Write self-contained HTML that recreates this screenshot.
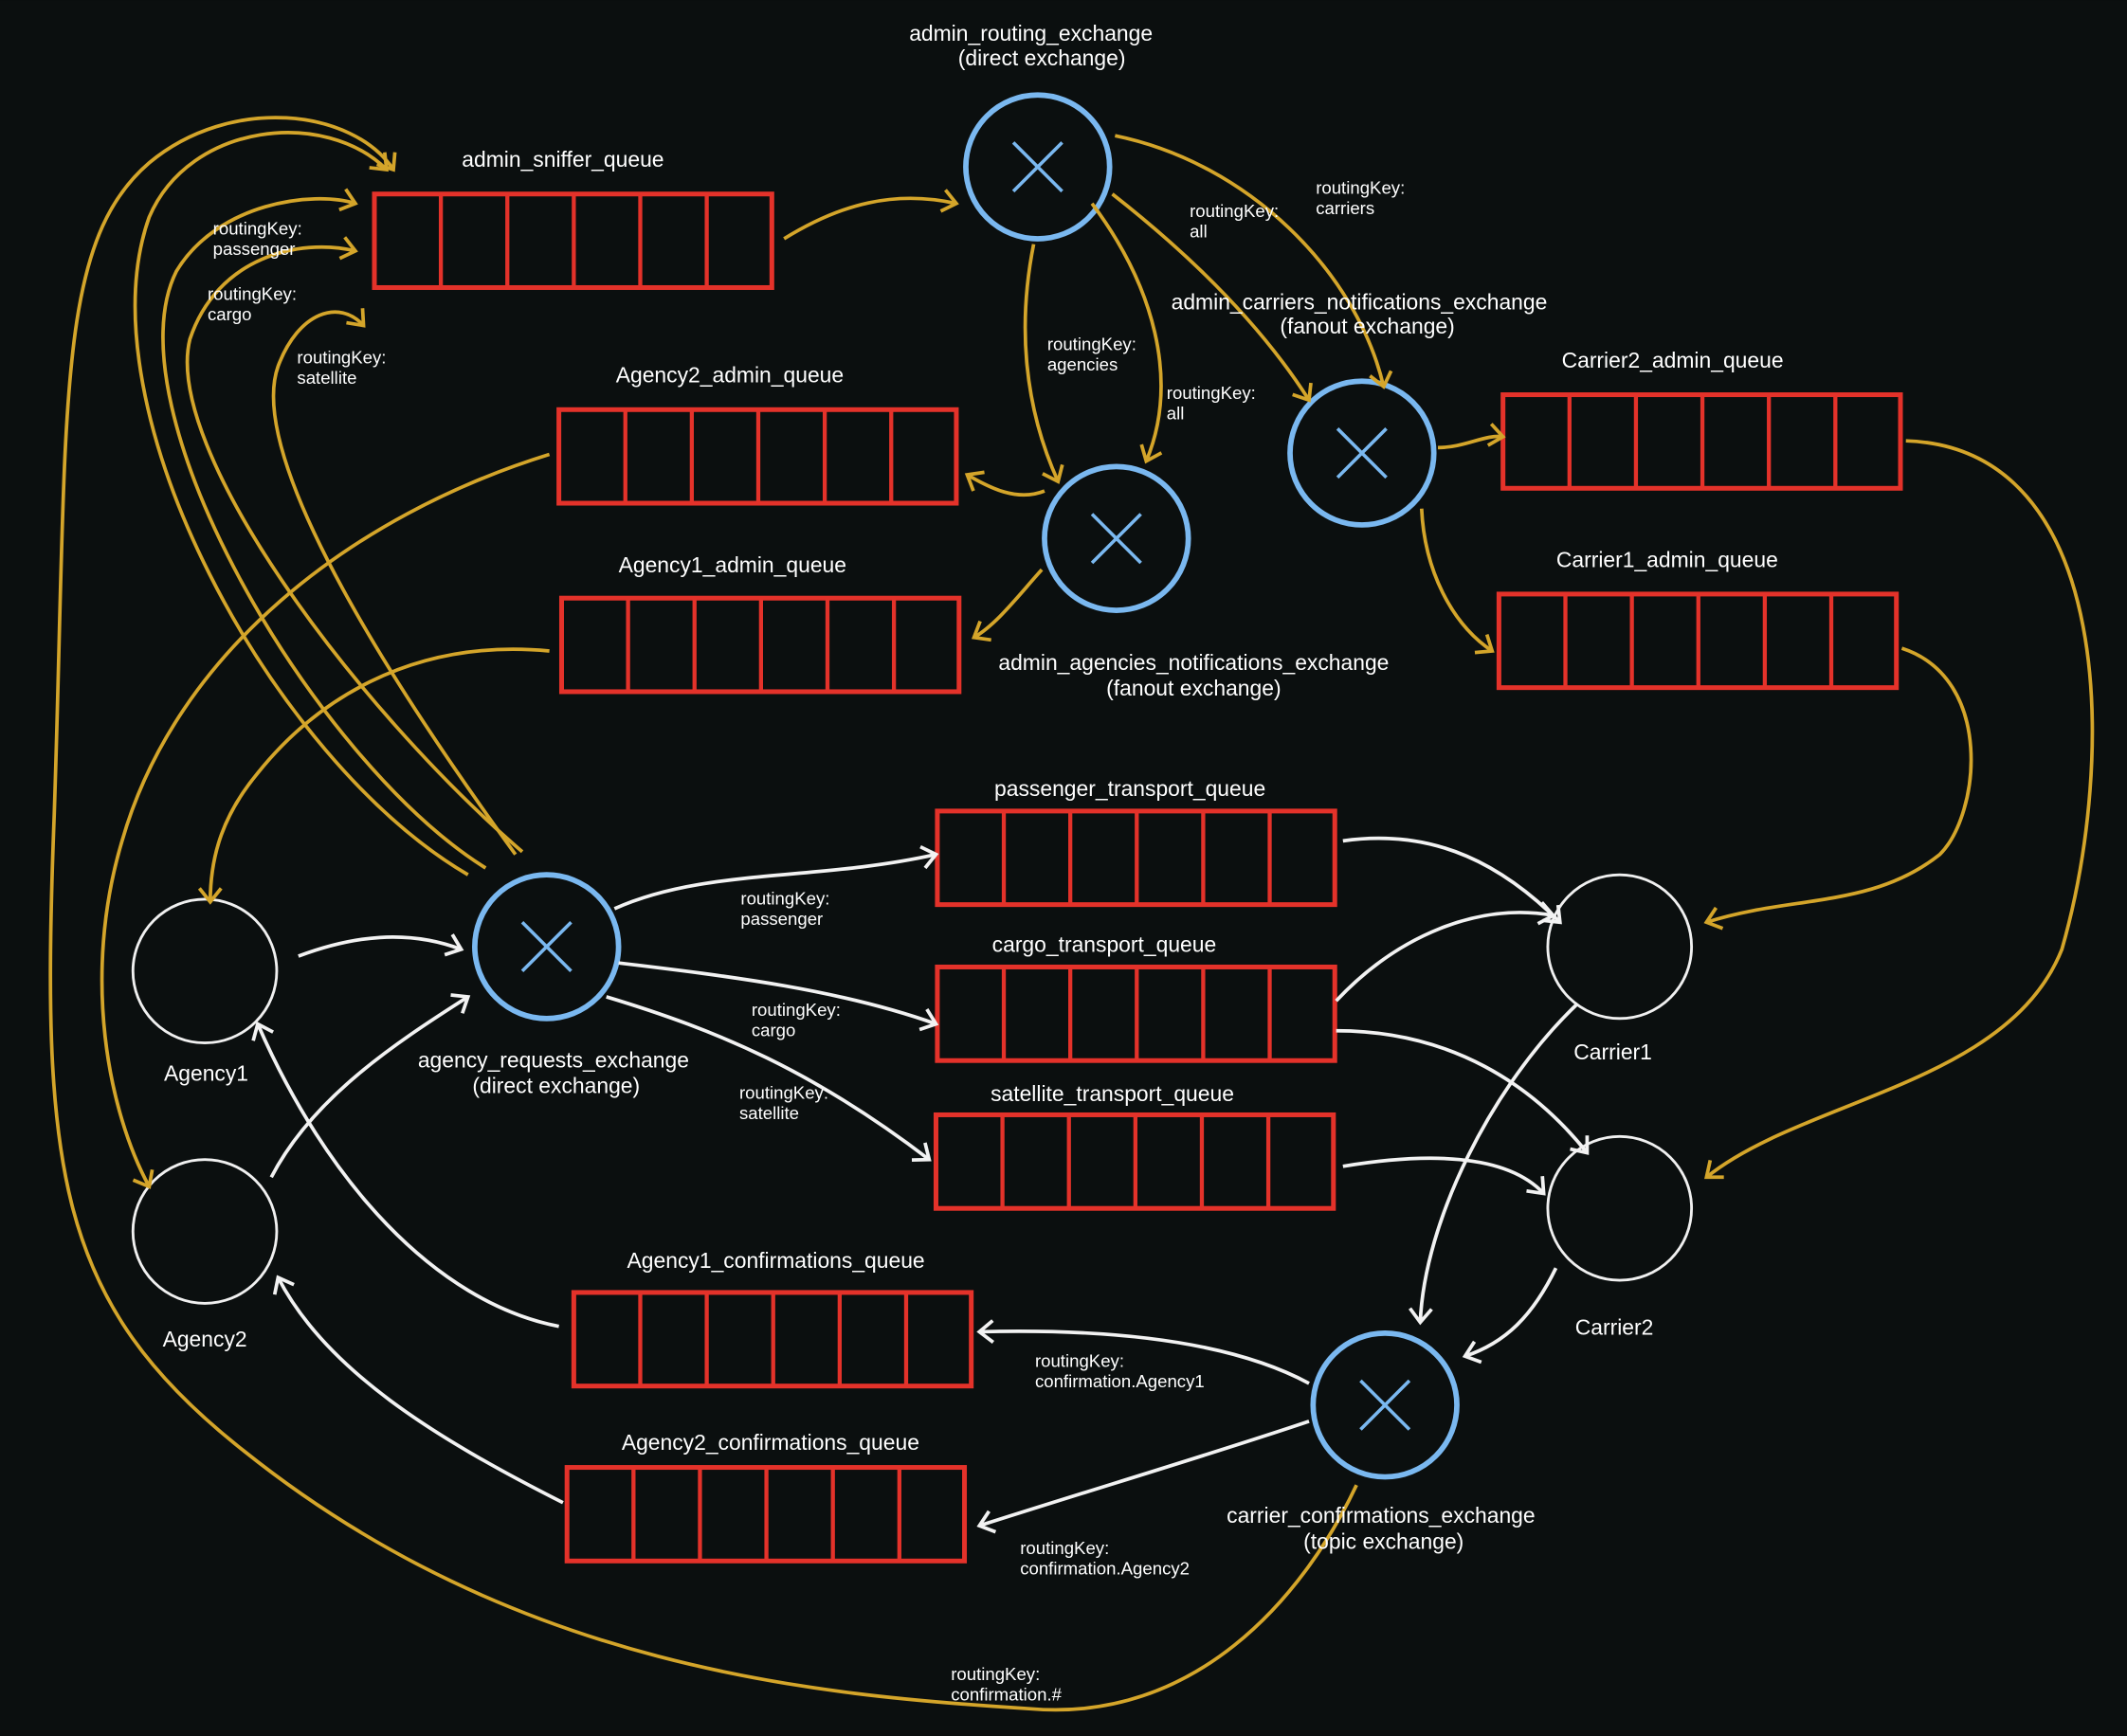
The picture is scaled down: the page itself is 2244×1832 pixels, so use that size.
<!DOCTYPE html>
<html><head><meta charset="utf-8"><style>
html,body{margin:0;padding:0;background:#0b0f0f;}
svg{display:block}
text{font-family:"Liberation Sans",sans-serif;fill:#fff}
.t{font-size:16px;text-anchor:middle}
.s{font-size:13px}
.q rect{fill:none;stroke:#e4322a;stroke-width:3.5}
.q line{stroke:#e4322a;stroke-width:3}
.ex{fill:none;stroke:#7ab8f0;stroke-width:4}
.xx{stroke:#7ab8f0;stroke-width:2.5}
.nd{fill:none;stroke:#f0f0f0;stroke-width:2}
.y{fill:none;stroke:#d4a52a;stroke-width:2.6;marker-end:url(#my)}
.w{fill:none;stroke:#f2f2f2;stroke-width:2.6;marker-end:url(#mw)}
</style></head><body>
<svg width="2244" height="1832" viewBox="0 0 1568 1280" xmlns="http://www.w3.org/2000/svg">
<defs>
<marker id="my" markerUnits="userSpaceOnUse" markerWidth="30" markerHeight="30" refX="0" refY="0" viewBox="-15 -15 30 30" orient="auto"><path d="M-10,-8 L0,0 L-10,8" fill="none" stroke="#d4a52a" stroke-width="2.6"/></marker>
<marker id="mw" markerUnits="userSpaceOnUse" markerWidth="30" markerHeight="30" refX="0" refY="0" viewBox="-15 -15 30 30" orient="auto"><path d="M-10,-8 L0,0 L-10,8" fill="none" stroke="#f2f2f2" stroke-width="2.6"/></marker>
<g id="qq" class="q"><rect x="0" y="0" width="293" height="69"/><line x1="49" y1="0" x2="49" y2="69"/><line x1="98" y1="0" x2="98" y2="69"/><line x1="147" y1="0" x2="147" y2="69"/><line x1="196" y1="0" x2="196" y2="69"/><line x1="245" y1="0" x2="245" y2="69"/></g>
<g id="ee"><circle class="ex" r="53" cx="0" cy="0"/><line class="xx" x1="-18" y1="-18" x2="18" y2="18"/><line class="xx" x1="18" y1="-18" x2="-18" y2="18"/></g>
</defs>
<rect width="1568" height="1280" fill="#0b0f0f"/>

<!-- queues -->
<use href="#qq" x="276" y="143"/>
<use href="#qq" x="412" y="302"/>
<use href="#qq" x="414" y="441"/>
<use href="#qq" x="1108" y="291"/>
<use href="#qq" x="1105" y="438"/>
<use href="#qq" x="691" y="598"/>
<use href="#qq" x="691" y="713"/>
<use href="#qq" x="690" y="822"/>
<use href="#qq" x="423" y="953"/>
<use href="#qq" x="418" y="1082"/>

<!-- exchanges -->
<use href="#ee" x="765" y="123"/>
<use href="#ee" x="823" y="397"/>
<use href="#ee" x="1004" y="334"/>
<use href="#ee" x="403" y="698"/>
<use href="#ee" x="1021" y="1036"/>

<!-- nodes -->
<circle class="nd" cx="151" cy="716" r="53"/>
<circle class="nd" cx="151" cy="908" r="53"/>
<circle class="nd" cx="1194" cy="698" r="53"/>
<circle class="nd" cx="1194" cy="891" r="53"/>

<!-- yellow connectors -->
<path class="y" d="M578,176 C620,150 660,140 705,150"/>
<path class="y" d="M762,180 C750,240 755,300 780,355"/>
<path class="y" d="M805,150 C850,210 870,280 845,340"/>
<path class="y" d="M820,143 C880,190 930,240 965,295"/>
<path class="y" d="M822,100 C920,120 1000,200 1020,285"/>
<path class="y" d="M770,362 C750,370 730,360 713,350"/>
<path class="y" d="M768,420 C750,440 735,460 718,470"/>
<path class="y" d="M1060,330 C1080,330 1095,320 1108,322"/>
<path class="y" d="M1048,375 C1050,420 1070,460 1100,480"/>
<path class="y" d="M1405,325 C1560,330 1560,560 1520,700 C1480,800 1330,810 1258,868"/>
<path class="y" d="M1402,478 C1470,500 1460,600 1430,630 C1380,670 1320,660 1258,680"/>
<path class="y" d="M405,335 C260,380 130,480 90,620 C60,720 80,820 110,875"/>
<path class="y" d="M405,480 C300,470 230,520 190,570 C165,600 155,630 155,665"/>
<path class="y" d="M345,645 C200,560 60,300 110,160 C140,90 240,80 285,125"/>
<path class="y" d="M358,640 C230,560 80,300 130,200 C160,150 230,140 262,150"/>
<path class="y" d="M385,628 C260,520 120,330 140,250 C160,190 220,175 262,185"/>
<path class="y" d="M380,630 C300,520 180,340 205,270 C220,230 250,220 268,240"/>
<path class="y" d="M1000,1095 C960,1180 880,1270 760,1260 C600,1250 380,1230 180,1070 C40,960 30,860 40,600 C50,300 40,180 110,120 C170,70 260,80 290,125"/>

<!-- white connectors -->
<path class="w" d="M220,705 C260,690 300,685 340,700"/>
<path class="w" d="M200,868 C230,810 290,770 345,735"/>
<path class="w" d="M453,670 C520,640 600,650 690,630"/>
<path class="w" d="M456,710 C540,720 620,730 690,755"/>
<path class="w" d="M447,735 C530,760 600,790 685,855"/>
<path class="w" d="M990,620 C1060,610 1110,640 1150,680"/>
<path class="w" d="M985,738 C1030,690 1090,665 1145,675"/>
<path class="w" d="M985,760 C1070,760 1130,800 1170,850"/>
<path class="w" d="M990,860 C1050,850 1110,850 1138,880"/>
<path class="w" d="M1163,740 C1100,800 1050,900 1047,975"/>
<path class="w" d="M1147,935 C1130,970 1110,990 1080,1000"/>
<path class="w" d="M965,1020 C900,985 800,980 722,982"/>
<path class="w" d="M965,1048 C900,1070 800,1100 722,1125"/>
<path class="w" d="M412,978 C320,960 240,870 190,755"/>
<path class="w" d="M415,1108 C320,1060 240,1010 205,942"/>

<!-- titles -->
<text class="t" x="760" y="30">admin_routing_exchange</text>
<text class="t" x="768" y="48">(direct exchange)</text>
<text class="t" x="415" y="123">admin_sniffer_queue</text>
<text class="t" x="538" y="282">Agency2_admin_queue</text>
<text class="t" x="540" y="422">Agency1_admin_queue</text>
<text class="t" x="1002" y="228">admin_carriers_notifications_exchange</text>
<text class="t" x="1008" y="246">(fanout exchange)</text>
<text class="t" x="1233" y="271">Carrier2_admin_queue</text>
<text class="t" x="1229" y="418">Carrier1_admin_queue</text>
<text class="t" x="880" y="494">admin_agencies_notifications_exchange</text>
<text class="t" x="880" y="513">(fanout exchange)</text>
<text class="t" x="833" y="587">passenger_transport_queue</text>
<text class="t" x="814" y="702">cargo_transport_queue</text>
<text class="t" x="820" y="812">satellite_transport_queue</text>
<text class="t" x="408" y="787">agency_requests_exchange</text>
<text class="t" x="410" y="806">(direct exchange)</text>
<text class="t" x="152" y="797">Agency1</text>
<text class="t" x="151" y="993">Agency2</text>
<text class="t" x="1189" y="781">Carrier1</text>
<text class="t" x="1190" y="984">Carrier2</text>
<text class="t" x="572" y="935">Agency1_confirmations_queue</text>
<text class="t" x="568" y="1069">Agency2_confirmations_queue</text>
<text class="t" x="1018" y="1123">carrier_confirmations_exchange</text>
<text class="t" x="1020" y="1142">(topic exchange)</text>

<!-- small labels -->
<text class="s" x="157" y="173">routingKey:</text><text class="s" x="157" y="188">passenger</text>
<text class="s" x="153" y="221">routingKey:</text><text class="s" x="153" y="236">cargo</text>
<text class="s" x="219" y="268">routingKey:</text><text class="s" x="219" y="283">satellite</text>
<text class="s" x="877" y="160">routingKey:</text><text class="s" x="877" y="175">all</text>
<text class="s" x="970" y="143">routingKey:</text><text class="s" x="970" y="158">carriers</text>
<text class="s" x="772" y="258">routingKey:</text><text class="s" x="772" y="273">agencies</text>
<text class="s" x="860" y="294">routingKey:</text><text class="s" x="860" y="309">all</text>
<text class="s" x="546" y="667">routingKey:</text><text class="s" x="546" y="682">passenger</text>
<text class="s" x="554" y="749">routingKey:</text><text class="s" x="554" y="764">cargo</text>
<text class="s" x="545" y="810">routingKey:</text><text class="s" x="545" y="825">satellite</text>
<text class="s" x="763" y="1008">routingKey:</text><text class="s" x="763" y="1023">confirmation.Agency1</text>
<text class="s" x="752" y="1146">routingKey:</text><text class="s" x="752" y="1161">confirmation.Agency2</text>
<text class="s" x="701" y="1239">routingKey:</text><text class="s" x="701" y="1254">confirmation.#</text>
</svg>
</body></html>
